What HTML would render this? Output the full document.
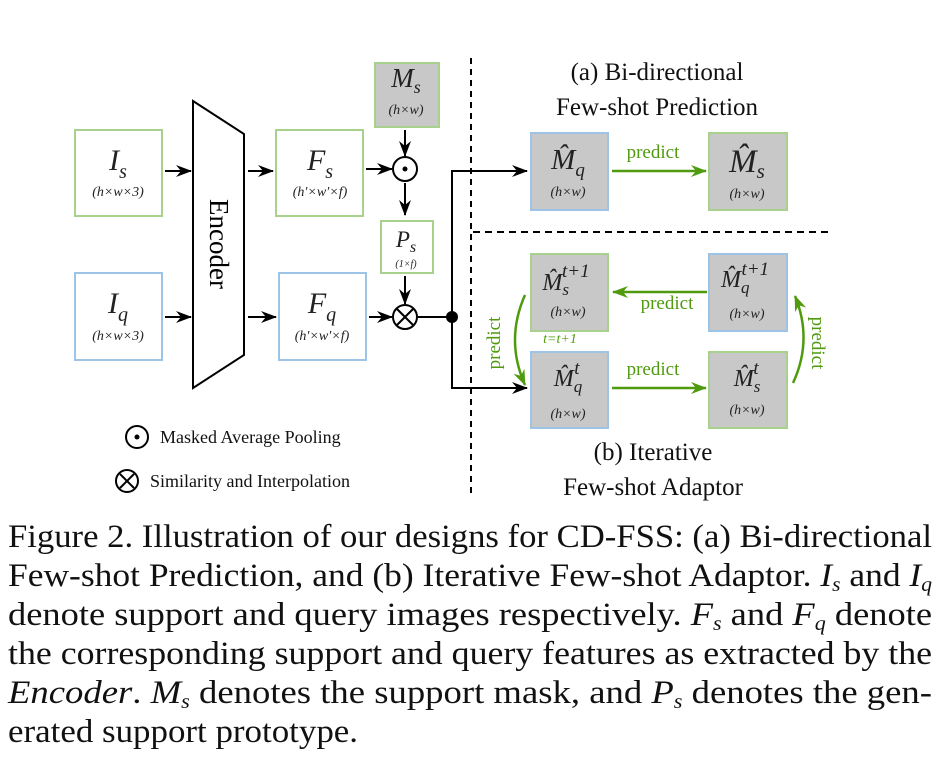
<!DOCTYPE html>
<html><head><meta charset="utf-8"><style>
html,body{margin:0;padding:0;background:#fff;}
svg{display:block;}
text{font-family:"Liberation Serif",serif;}
.m{font-style:italic;}
</style></head><body>
<svg width="939" height="783" viewBox="0 0 939 783" xmlns="http://www.w3.org/2000/svg">
<defs>
<marker id="ak" markerWidth="16" markerHeight="12" refX="15" refY="6" orient="auto" markerUnits="userSpaceOnUse"><path d="M0,0 L16,6 L0,12 L5,6 z" fill="#000"/></marker>
<marker id="ag" markerWidth="16" markerHeight="12" refX="15" refY="6" orient="auto" markerUnits="userSpaceOnUse"><path d="M0,0 L16,6 L0,12 L5,6 z" fill="#4f9a0e"/></marker>
</defs>
<g fill="none" stroke-width="2">
<rect x="75" y="130" width="87" height="86" stroke="#a9d18e"/>
<rect x="75" y="273" width="87" height="87" stroke="#9dc3e6"/>
<rect x="276" y="130" width="87" height="86" stroke="#a9d18e"/>
<rect x="279" y="273" width="87" height="87" stroke="#9dc3e6"/>
<rect x="375" y="63" width="64" height="64" stroke="#a9d18e" fill="#c8c8c8"/>
<rect x="381" y="221" width="52" height="52" stroke="#a9d18e"/>
<rect x="531" y="133" width="77" height="77" stroke="#9dc3e6" fill="#c8c8c8"/>
<rect x="709" y="133" width="78" height="77" stroke="#a9d18e" fill="#c8c8c8"/>
<rect x="531" y="254" width="77" height="77" stroke="#a9d18e" fill="#c8c8c8"/>
<rect x="709" y="254" width="78" height="77" stroke="#9dc3e6" fill="#c8c8c8"/>
<rect x="531" y="352" width="77" height="76" stroke="#9dc3e6" fill="#c8c8c8"/>
<rect x="709" y="352" width="78" height="76" stroke="#a9d18e" fill="#c8c8c8"/>
</g>
<polygon points="193,101 244,134 244,355 193,388" fill="#fff" stroke="#000" stroke-width="2"/>
<text transform="translate(210,244) rotate(90)" text-anchor="middle" font-size="27">Encoder</text>
<g stroke="#000" stroke-width="2" fill="none">
<line x1="165" y1="171" x2="191" y2="171" marker-end="url(#ak)"/>
<line x1="165" y1="317" x2="191" y2="317" marker-end="url(#ak)"/>
<line x1="248" y1="171" x2="273" y2="171" marker-end="url(#ak)"/>
<line x1="248" y1="317" x2="276" y2="317" marker-end="url(#ak)"/>
<line x1="366" y1="169" x2="392" y2="169" marker-end="url(#ak)"/>
<line x1="369" y1="317" x2="392" y2="317" marker-end="url(#ak)"/>
<line x1="405" y1="130" x2="405" y2="156" marker-end="url(#ak)"/>
<line x1="405" y1="183" x2="405" y2="215" marker-end="url(#ak)"/>
<line x1="405" y1="276" x2="405" y2="304" marker-end="url(#ak)"/>
<circle cx="405" cy="169" r="12"/>
<circle cx="405" cy="317" r="12"/>
<line x1="397" y1="309" x2="413" y2="325"/><line x1="413" y1="309" x2="397" y2="325"/>
<line x1="418" y1="317" x2="452" y2="317"/>
<line x1="452" y1="171" x2="452" y2="388"/>
<line x1="451" y1="171" x2="527" y2="171" marker-end="url(#ak)"/>
<line x1="451" y1="388" x2="527" y2="388" marker-end="url(#ak)"/>
<line x1="471" y1="58" x2="471" y2="496" stroke-dasharray="6,5"/>
<line x1="473" y1="232" x2="830" y2="232" stroke-dasharray="7,5"/>
<circle cx="137" cy="437" r="11"/>
<circle cx="127" cy="481" r="11"/>
<line x1="120" y1="474" x2="134" y2="488"/><line x1="134" y1="474" x2="120" y2="488"/>
</g>
<circle cx="405" cy="169" r="2.5" fill="#000"/>
<circle cx="137" cy="437" r="2.5" fill="#000"/>
<circle cx="452" cy="317" r="6" fill="#000"/>
<g stroke="#4f9a0e" stroke-width="2.5" fill="none">
<line x1="612" y1="171" x2="706" y2="171" marker-end="url(#ag)"/>
<line x1="707" y1="292" x2="613" y2="292" marker-end="url(#ag)"/>
<line x1="612" y1="388" x2="706" y2="388" marker-end="url(#ag)"/>
<path d="M525,295 Q505,340 525,385" marker-end="url(#ag)"/>
<path d="M793,383 Q813,340 795,296" marker-end="url(#ag)"/>
</g>
<g fill="#4f9a0e" font-size="19">
<text x="653" y="158" text-anchor="middle">predict</text>
<text x="667" y="309" text-anchor="middle">predict</text>
<text x="653" y="375" text-anchor="middle">predict</text>
<text transform="translate(500,343) rotate(-90)" text-anchor="middle">predict</text>
<text transform="translate(812,343) rotate(90)" text-anchor="middle">predict</text>
<text x="560" y="343" text-anchor="middle" font-size="14" class="m">t=t+1</text>
</g>
<g class="m" text-anchor="middle" fill="#222">
<text x="118" y="170" font-size="30">I<tspan font-size="20" dy="8">s</tspan></text>
<text x="118" y="196" font-size="14">(h×w×3)</text>
<text x="118" y="313" font-size="30">I<tspan font-size="20" dy="8">q</tspan></text>
<text x="118" y="340" font-size="14">(h×w×3)</text>
<text x="320" y="170" font-size="30">F<tspan font-size="20" dy="8">s</tspan></text>
<text x="320" y="196" font-size="14">(h′×w′×f)</text>
<text x="322" y="313" font-size="30">F<tspan font-size="20" dy="8">q</tspan></text>
<text x="322" y="340" font-size="14">(h′×w′×f)</text>
<text x="406" y="87" font-size="27">M<tspan font-size="18" dy="6">s</tspan></text>
<text x="406" y="114" font-size="14">(h×w)</text>
<text x="406" y="247" font-size="23">P<tspan font-size="16" dy="5">s</tspan></text>
<text x="406" y="267" font-size="10">(1×f)</text>
<text x="568" y="169" font-size="29">M̂<tspan font-size="19" dy="7">q</tspan></text>
<text x="568" y="196" font-size="14">(h×w)</text>
<text x="747" y="172" font-size="33">M̂<tspan font-size="21" dy="6">s</tspan></text>
<text x="747" y="198" font-size="14">(h×w)</text>
<text x="566" y="290" font-size="24">M̂<tspan font-size="17" dy="5">s</tspan><tspan font-size="19" dx="-7" dy="-18">t+1</tspan></text>
<text x="568" y="316" font-size="14">(h×w)</text>
<text x="745" y="287" font-size="24">M̂<tspan font-size="17" dy="6">q</tspan><tspan font-size="19" dx="-8" dy="-18">t+1</tspan></text>
<text x="747" y="318" font-size="14">(h×w)</text>
<text x="568" y="386" font-size="24">M̂<tspan font-size="17" dy="6">q</tspan><tspan font-size="19" dx="-8" dy="-18">t</tspan></text>
<text x="568" y="418" font-size="14">(h×w)</text>
<text x="747" y="386" font-size="24">M̂<tspan font-size="17" dy="6">s</tspan><tspan font-size="19" dx="-7" dy="-18">t</tspan></text>
<text x="747" y="414" font-size="14">(h×w)</text>
</g>
<g font-size="25" text-anchor="middle" fill="#111">
<text x="657" y="80">(a) Bi-directional</text>
<text x="657" y="115">Few-shot Prediction</text>
<text x="653" y="460">(b) Iterative</text>
<text x="653" y="495">Few-shot Adaptor</text>
</g>
<g font-size="18" fill="#111">
<text x="160" y="443">Masked Average Pooling</text>
<text x="150" y="487">Similarity and Interpolation</text>
</g>
<g font-size="33" fill="#111">
<text x="8" y="547" textLength="924" lengthAdjust="spacingAndGlyphs">Figure 2. Illustration of our designs for CD-FSS: (a) Bi-directional</text>
<text x="8" y="586" textLength="924" lengthAdjust="spacingAndGlyphs">Few-shot Prediction, and (b) Iterative Few-shot Adaptor. <tspan class="m">I</tspan><tspan class="m" font-size="20" dy="5">s</tspan><tspan dy="-5"> and </tspan><tspan class="m">I</tspan><tspan class="m" font-size="20" dy="5">q</tspan></text>
<text x="8" y="625" textLength="924" lengthAdjust="spacingAndGlyphs">denote support and query images respectively.  <tspan class="m">F</tspan><tspan class="m" font-size="20" dy="5">s</tspan><tspan dy="-5"> and </tspan><tspan class="m">F</tspan><tspan class="m" font-size="20" dy="5">q</tspan><tspan dy="-5"> denote</tspan></text>
<text x="8" y="664" textLength="924" lengthAdjust="spacingAndGlyphs">the corresponding support and query features as extracted by the</text>
<text x="8" y="703" textLength="924" lengthAdjust="spacingAndGlyphs"><tspan class="m">Encoder</tspan>. <tspan class="m">M</tspan><tspan class="m" font-size="20" dy="5">s</tspan><tspan dy="-5"> denotes the support mask, and </tspan><tspan class="m">P</tspan><tspan class="m" font-size="20" dy="5">s</tspan><tspan dy="-5"> denotes the gen-</tspan></text>
<text x="8" y="742" textLength="350" lengthAdjust="spacingAndGlyphs">erated support prototype.</text>
</g>
</svg>
</body></html>
